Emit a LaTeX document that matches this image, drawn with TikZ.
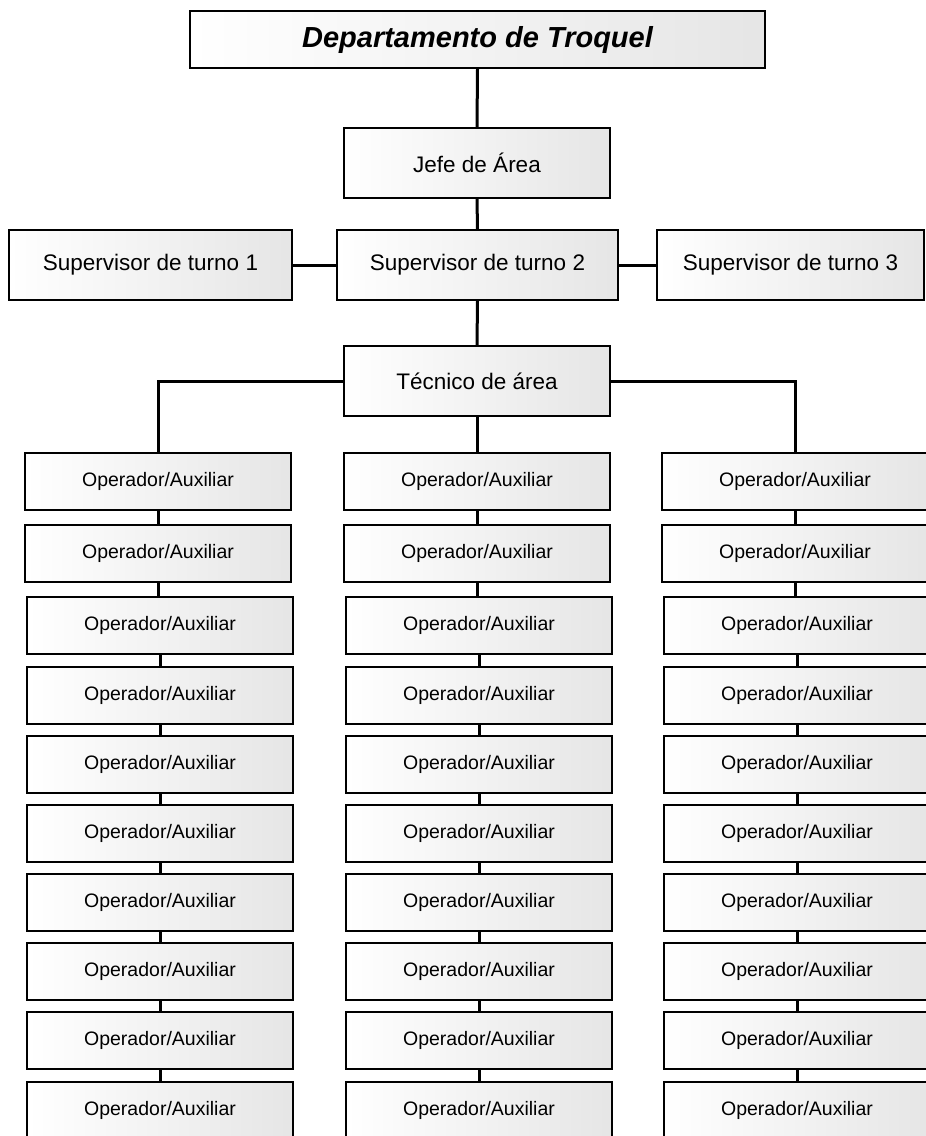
\documentclass[tikz,border=0pt]{standalone}
\usepackage{fontspec}
\setmainfont{Liberation Sans}
\begin{document}
\begin{tikzpicture}[x=1pt,y=-1pt,
  box/.style={draw=black, line width=2pt, left color=white, right color=black!10,
    inner sep=0pt, align=center},
  titlebox/.style={box, minimum width=575pt, minimum height=57pt,
    font=\fontsize{29}{34}\selectfont\bfseries\itshape},
  rolebox/.style={box, minimum height=70pt, font=\fontsize{22.5}{27}\selectfont},
  opbox/.style={box, minimum width=266pt, minimum height=57pt,
    font=\fontsize{19.5}{23}\selectfont},
  conn/.style={draw=black, line width=3pt}]
\useasboundingbox (0,0) rectangle (926,1136);
\clip (0,0) rectangle (926,1136);

% management chain
\node[titlebox] (dep) at (477.5,39.5) {Departamento de Troquel};
\node[rolebox, minimum width=266pt] (jefe) at (477,163) {Jefe de Área};
\node[rolebox, minimum width=283pt] (sup1) at (150.5,265) {Supervisor de turno 1};
\node[rolebox, minimum width=281pt] (sup2) at (477.5,265) {Supervisor de turno 2};
\node[rolebox, minimum width=267pt] (sup3) at (790.5,265) {Supervisor de turno 3};
\node[rolebox, minimum width=266pt] (tec) at (477,381) {Técnico de área};

% three columns of operators
\foreach \i/\t/\dx in {1/453/0, 2/525/0, 3/597/2, 4/667/2, 5/736/2,
                      6/805/2, 7/874/2, 8/943/2, 9/1012/2, 10/1082/2} {
  \node[opbox] (L\i) at (158+\dx,\t+28.5) {Operador/Auxiliar};
  \node[opbox] (M\i) at (477+\dx,\t+28.5) {Operador/Auxiliar};
  \node[opbox] (R\i) at (795+\dx,\t+28.5) {Operador/Auxiliar};
}

% connectors
\draw[conn] (dep.south) -- (jefe.north);
\draw[conn] (jefe.south) -- (sup2.north);
\draw[conn] (sup1.east) -- (sup2.west);
\draw[conn] (sup2.east) -- (sup3.west);
\draw[conn] (sup2.south) -- (tec.north);
\draw[conn] (tec.west) -| (L1.north);
\draw[conn] (tec.east) -| (R1.north);
\draw[conn] (tec.south) -- (M1.north);
\foreach \i/\j in {1/2,2/3,3/4,4/5,5/6,6/7,7/8,8/9,9/10} {
  \draw[conn] (L\i.south) -- (L\i.south |- L\j.north);
  \draw[conn] (M\i.south) -- (M\i.south |- M\j.north);
  \draw[conn] (R\i.south) -- (R\i.south |- R\j.north);
}
\end{tikzpicture}
\end{document}
